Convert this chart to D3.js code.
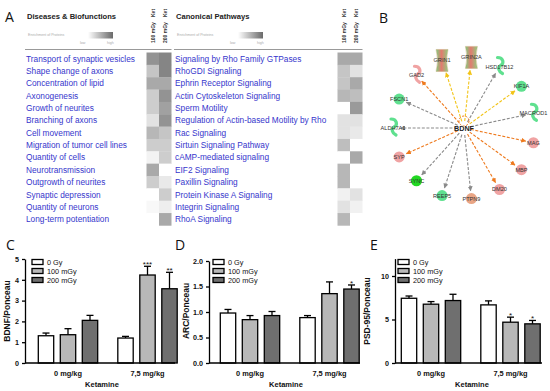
<!DOCTYPE html>
<html>
<head>
<meta charset="utf-8">
<script src="https://cdn.jsdelivr.net/npm/d3@7"></script>
<style>
  body { margin: 0; background: #fff; }
  svg { display: block; font-family: "Liberation Sans", Arial, sans-serif; }
</style>
</head>
<body>
<div id="chart"></div>
<script>
// ---------- panel A data ----------
const heatCols = ["100 mGy", "200 mGy"];
const bioFunctions = ["Transport of synaptic vesicles", "Shape change of axons", "Concentration of lipid",
  "Axonogenesis", "Growth of neurites", "Branching of axons", "Cell movement",
  "Migration of tumor cell lines", "Quantity of cells", "Neurotransmission",
  "Outgrowth of neurites", "Synaptic depression", "Quantity of neurons", "Long-term potentiation"];
const bio100 = [0.75, 0.4, 0.6, 0.35, 0.35, 0.2, 0.5, 0.35, 0.08, 0.6, 0.35, 0, 0.05, 0];
const bio200 = [0.85, 0.85, 0.6, 0.75, 0.65, 0.75, 0.4, 0.35, 0.35, 0, 0.15, 0.35, 0.12, 0.6];
const pathways = ["Signaling by Rho Family GTPases", "RhoGDI Signaling", "Ephrin Receptor Signaling",
  "Actin Cytoskeleton Signaling", "Sperm Motility", "Regulation of Actin-based Motility by Rho",
  "Rac Signaling", "Sirtuin Signaling Pathway", "cAMP-mediated signaling", "EIF2 Signaling",
  "Paxillin Signaling", "Protein Kinase A Signaling", "Integrin Signaling", "RhoA Signaling"];
const path100 = [0.6, 0.4, 0.4, 0.5, 0, 0.2, 0.2, 0.45, 0, 0.5, 0.5, 0.1, 0.2, 0.5];
const path200 = [0.6, 0.2, 0.6, 0.45, 0.7, 0.2, 0.15, 0, 0.6, 0, 0, 0.2, 0.1, 0];

// ---------- panel B data (clockwise from GRIN2A) ----------
const hubNode = "BDNF";
const netNodes = ["GRIN2A", "HSD17B12", "KIF1A", "MACROD1", "MAG", "MBP", "DM20", "PTPN9",
  "REEP5", "SYNC", "SYP", "ALDH7A1", "FSCN1", "GAD2", "GRIN1"];
const netShape = ["channel", "other", "circle", "other", "circle", "circle", "circle", "circle",
  "circle", "circle", "circle", "other", "circle", "enzyme", "channel"];
const netRegulation = ["mixed", "down", "down", "down", "up", "up", "up", "mixed",
  "down", "strongdown", "up", "down", "down", "up", "mixed"];
const netEdge = ["yellow", "grey", "yellow", "grey", "orange", "orange", "orange", "grey",
  "grey", "grey", "orange", "grey", "grey", "orange", "yellow"];

// ---------- panels C, D, E data ----------
const doses = ["0 mg/kg", "7,5 mg/kg"];
const groups = ["0 Gy", "100 mGy", "200 mGy"];
const bdnfMean = [[1.31, 1.36, 2.05], [1.2, 4.23, 3.57]];
const bdnfSem = [[0.13, 0.29, 0.24], [0.08, 0.42, 0.79]];
const bdnfStars = [["", "", ""], ["", "***", "**"]];
const arcMean = [[0.98, 0.85, 0.93], [0.89, 1.36, 1.45]];
const arcSem = [[0.07, 0.08, 0.08], [0.04, 0.23, 0.08]];
const arcStars = [["", "", ""], ["", "", "*"]];
const psdMean = [[7.44, 6.76, 7.18], [6.68, 4.69, 4.5]];
const psdSem = [[0.26, 0.3, 0.72], [0.46, 0.58, 0.39]];
const psdStars = [["", "", ""], ["", "*", "*"]];

const W = 550, H = 391;
const svg = d3.select("#chart").append("svg").attr("width", W).attr("height", H);
svg.append("rect").attr("width", W).attr("height", H).attr("fill", "#fff");

function panelLetter(t, x, y) {
  svg.append("text").attr("x", x).attr("y", y).attr("font-size", 14)
    .attr("font-family", "'Open Sans', sans-serif").attr("fill", "#111").text(t);
}
panelLetter("A", 5, 22);
panelLetter("B", 379, 23);
panelLetter("C", 6, 250);
panelLetter("D", 175, 250);
panelLetter("E", 370, 250);

// ---------- heatmap panels ----------
const shade = d3.scaleLinear().domain([0, 1]).range(["#ffffff", "#6f6f6f"]);
const defs = svg.append("defs");
const grad = defs.append("linearGradient").attr("id", "enrich");
grad.append("stop").attr("offset", "0%").attr("stop-color", "#ffffff");
grad.append("stop").attr("offset", "100%").attr("stop-color", "#6a6a6a");

function heatPanel(cfg) {
  const g = svg.append("g");
  const rowY = d3.scaleBand().domain(d3.range(cfg.labels.length)).range([52.5, 225.4]);
  const colX = d3.scaleBand().domain(heatCols).range([cfg.hx, cfg.hx + 25]);

  g.append("text").attr("x", cfg.tx + 1).attr("y", 19).attr("font-size", 7.6)
    .attr("font-weight", "bold").attr("fill", "#222").text(cfg.title);

  // enrichment legend
  g.append("text").attr("x", cfg.tx + 2).attr("y", 35.5).attr("font-size", 3.6)
    .attr("fill", "#aaa").text("Enrichment of Proteins");
  g.append("rect").attr("x", cfg.gx).attr("y", 32).attr("width", 25).attr("height", 6.5)
    .attr("fill", "url(#enrich)");
  g.append("text").attr("x", cfg.gx - 8).attr("y", 44).attr("font-size", 3.6)
    .attr("fill", "#aaa").text("low");
  g.append("text").attr("x", cfg.gx + 19).attr("y", 44).attr("font-size", 3.6)
    .attr("fill", "#aaa").text("high");

  g.append("line").attr("x1", cfg.tx - 1).attr("x2", cfg.hx + 25)
    .attr("y1", 49.5).attr("y2", 49.5).attr("stroke", "#999").attr("stroke-width", 1);

  // column headers
  heatCols.forEach(c => {
    const cx = colX(c) + colX.bandwidth() / 2 + 2;
    g.append("text").attr("transform", `translate(${cx},43) rotate(-90)`)
      .attr("font-size", 5).attr("font-weight", "bold").attr("fill", "#333").text(c);
    g.append("text").attr("transform", `translate(${cx},17) rotate(-90)`)
      .attr("font-size", 5).attr("font-weight", "bold").attr("fill", "#333").text("Ket");
  });

  g.selectAll("text.row").data(cfg.labels).join("text").attr("class", "row")
    .attr("x", cfg.tx).attr("y", (d, i) => rowY(i) + rowY.bandwidth() / 2 + 3)
    .attr("font-size", 8.3).attr("fill", "#3636cc").text(d => d);

  [cfg.v100, cfg.v200].forEach((vals, c) => {
    g.selectAll(null).data(vals).join("rect")
      .attr("x", colX(heatCols[c])).attr("y", (d, i) => rowY(i))
      .attr("width", colX.bandwidth()).attr("height", rowY.bandwidth() + 0.3)
      .attr("fill", d => shade(d));
  });
}
heatPanel({ title: "Diseases & Biofunctions", labels: bioFunctions, v100: bio100, v200: bio200,
  tx: 26, hx: 146.5, gx: 88 });
heatPanel({ title: "Canonical Pathways", labels: pathways, v100: path100, v200: path200,
  tx: 175, hx: 337.5, gx: 238 });

// ---------- network panel ----------
const hub = [464, 128];
const angle = d3.scaleLinear().domain([0, netNodes.length]).range([6 * Math.PI / 180, 366 * Math.PI / 180]);
const edgeColor = { orange: "#ee7a1e", yellow: "#f2c418", grey: "#8a8a8a" };
const regColor = { up: "#f0a3a3", down: "#5fe08f", strongdown: "#22d822", mixed: "#e9a585" };

const net = svg.append("g");
Object.entries(edgeColor).forEach(([k, c]) => {
  defs.append("marker").attr("id", "arr-" + k).attr("viewBox", "0 -4 8 8")
    .attr("refX", 7).attr("refY", 0).attr("markerWidth", 4.5).attr("markerHeight", 4.5)
    .attr("orient", "auto").append("path").attr("d", "M0,-4L8,0L0,4Z").attr("fill", c);
});
const nodes = netNodes.map((n, i) => {
  const a = angle(i);
  const p = d3.pointRadial(a, 71);
  return { name: n, a, x: hub[0] + p[0], y: hub[1] + p[1], shape: netShape[i], reg: netRegulation[i], edge: netEdge[i] };
});

net.selectAll("line").data(nodes).join("line")
  .attr("x1", d => hub[0] + d3.pointRadial(d.a, 7)[0])
  .attr("y1", d => hub[1] + d3.pointRadial(d.a, 7)[1])
  .attr("x2", d => hub[0] + d3.pointRadial(d.a, d.shape === "channel" ? 58 : 63)[0])
  .attr("y2", d => hub[1] + d3.pointRadial(d.a, d.shape === "channel" ? 58 : 63)[1])
  .attr("stroke", d => edgeColor[d.edge]).attr("stroke-width", 1.1)
  .attr("stroke-dasharray", "3,1.6").attr("marker-end", d => "url(#arr-" + d.edge + ")");

// self loop on hub
net.append("circle").attr("cx", hub[0]).attr("cy", hub[1] - 7).attr("r", 5)
  .attr("fill", "none").attr("stroke", edgeColor.orange).attr("stroke-width", 1)
  .attr("stroke-dasharray", "2,1.5");

const cg = defs.append("linearGradient").attr("id", "chan");
cg.append("stop").attr("offset", "0%").attr("stop-color", "#7fcf7f");
cg.append("stop").attr("offset", "45%").attr("stop-color", "#e27a6f");
cg.append("stop").attr("offset", "100%").attr("stop-color", "#8fcf80");

const nodeG = net.selectAll("g.node").data(nodes).join("g").attr("class", "node")
  .attr("transform", d => `translate(${d.x},${d.y})`);
nodeG.each(function (d) {
  const s = d3.select(this);
  if (d.shape === "circle") {
    s.append("circle").attr("r", 5.5).attr("fill", regColor[d.reg]);
  } else if (d.shape === "channel") {
    s.append("path").attr("d", "M-6,-11 L6,-11 Q3,0 6,11 L-6,11 Q-3,0 -6,-11Z")
      .attr("fill", "url(#chan)").attr("stroke", "#c9a070").attr("stroke-width", 0.4);
  } else {
    const col = d.reg === "up" ? regColor.up : regColor.down;
    s.append("path").attr("d", "M-2,-9 C4,-9 5,-3 1,-1 C-2,1 -1,5 3,7")
      .attr("fill", "none").attr("stroke", col).attr("stroke-width", 3.2).attr("stroke-linecap", "round");
  }
});
nodeG.append("text").attr("text-anchor", "middle").attr("y", 2)
  .attr("font-size", 5.6).attr("fill", "#333").text(d => d.name);

net.append("text").attr("x", hub[0]).attr("y", hub[1] + 2.5).attr("text-anchor", "middle")
  .attr("font-size", 7.2).attr("font-weight", "bold").attr("fill", "#222").text(hubNode);

// ---------- bar panels ----------
const fills = ["#ffffff", "#b8b8b8", "#6f6f6f"];
function barPanel(cfg) {
  const g = svg.append("g");
  const base = 363;
  const y = d3.scaleLinear().domain(cfg.domain).range([base, cfg.top]);
  const x0 = d3.scaleBand().domain(doses)
    .range([cfg.x + cfg.g1 - 33, cfg.x + cfg.g1 - 33 + 145.5]).paddingInner(0.17);
  const x1 = d3.scaleBand().domain(groups).range([0, x0.bandwidth()])
    .paddingInner(0.3).paddingOuter(0.15);

  doses.forEach((dose, di) => {
    groups.forEach((grp, gi) => {
      const m = cfg.mean[di][gi], e = cfg.sem[di][gi];
      const bx = x0(dose) + x1(grp), cx = bx + x1.bandwidth() / 2;
      g.append("line").attr("x1", cx).attr("x2", cx).attr("y1", y(m)).attr("y2", y(m + e))
        .attr("stroke", "#000").attr("stroke-width", 1.3);
      g.append("line").attr("x1", cx - 3.5).attr("x2", cx + 3.5).attr("y1", y(m + e)).attr("y2", y(m + e))
        .attr("stroke", "#000").attr("stroke-width", 1.3);
      g.append("rect").attr("x", bx).attr("y", y(m)).attr("width", x1.bandwidth())
        .attr("height", base - y(m)).attr("fill", fills[gi]).attr("stroke", "#000").attr("stroke-width", 1.3);
      if (cfg.stars[di][gi]) {
        g.append("text").attr("x", cx).attr("y", y(m + e) + 1).attr("text-anchor", "middle")
          .attr("font-size", 8).attr("fill", "#111").text(cfg.stars[di][gi]);
      }
    });
  });

  const ya = g.append("g").attr("transform", `translate(${cfg.x},0)`)
    .call(d3.axisLeft(y).tickValues(cfg.ticks).tickSize(3).tickSizeOuter(0).tickFormat(cfg.fmt));
  ya.select(".domain").attr("stroke-width", 1.3);
  ya.selectAll(".tick line").attr("stroke-width", 1.3);
  ya.selectAll(".tick text").attr("font-size", 7.2).attr("font-weight", "bold")
    .attr("font-family", "'Liberation Sans', Arial, sans-serif").attr("fill", "#111");

  g.append("line").attr("x1", cfg.x).attr("x2", cfg.x + cfg.w).attr("y1", base).attr("y2", base)
    .attr("stroke", "#000").attr("stroke-width", 1.3);

  doses.forEach(d => {
    g.append("text").attr("x", x0(d) + x0.bandwidth() / 2).attr("y", 376).attr("text-anchor", "middle")
      .attr("font-size", 7.4).attr("font-weight", "bold").attr("fill", "#111").text(d);
  });
  g.append("text").attr("x", cfg.x + 77).attr("y", 387).attr("text-anchor", "middle")
    .attr("font-size", 7.5).attr("font-weight", "bold").attr("fill", "#111").text("Ketamine");
  g.append("text").attr("transform", `translate(${cfg.lx},311) rotate(-90)`).attr("text-anchor", "middle")
    .attr("font-size", 8.5).attr("font-weight", "bold").attr("fill", "#111").text(cfg.label);

  // legend
  groups.forEach((grp, gi) => {
    const ly = 262 + gi * 9;
    g.append("rect").attr("x", cfg.x + cfg.legX).attr("y", ly - 2.5).attr("width", 11).attr("height", 5)
      .attr("fill", fills[gi]).attr("stroke", "#000").attr("stroke-width", 1.3);
    g.append("text").attr("x", cfg.x + cfg.legX + 15).attr("y", ly + 2.6)
      .attr("font-size", 7.3).attr("fill", "#111").text(grp);
  });
}
barPanel({ x: 25, w: 150, g1: 43, domain: [0, 5], top: 259, ticks: [0, 1, 2, 3, 4, 5], fmt: d3.format("d"),
  mean: bdnfMean, sem: bdnfSem, stars: bdnfStars, label: "BDNF/Ponceau", lx: 10, legX: 7 });
barPanel({ x: 209, w: 151, g1: 41, domain: [0, 2], top: 261, ticks: [0, 0.5, 1, 1.5, 2], fmt: d3.format(".1f"),
  mean: arcMean, sem: arcSem, stars: arcStars, label: "ARC/Ponceau", lx: 189, legX: 4 });
barPanel({ x: 395, w: 147, g1: 36, domain: [0, 12], top: 258.6, ticks: [0, 5, 10], fmt: d3.format("d"),
  mean: psdMean, sem: psdSem, stars: psdStars, label: "PSD-95/Ponceau", lx: 370, legX: 3 });
</script>
</body>
</html>
